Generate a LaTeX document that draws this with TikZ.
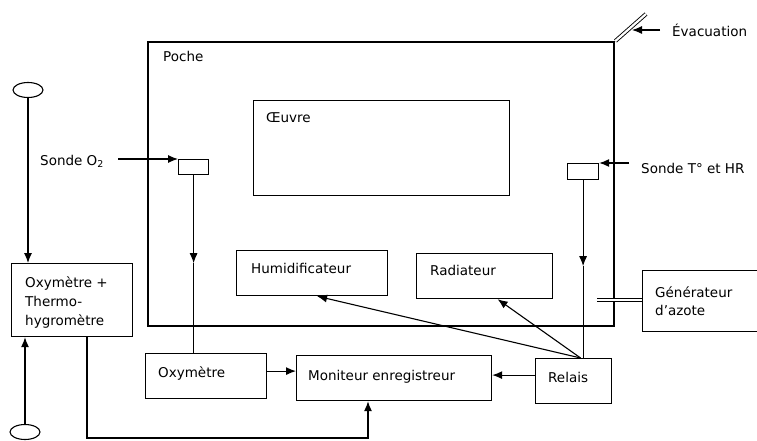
\documentclass[tikz,border=0pt]{standalone}
\usepackage{fontspec}
\setmainfont{DejaVu Sans}
\usetikzlibrary{arrows.meta,shapes.geometric}
\begin{document}
\begin{tikzpicture}[x=1pt,y=-1pt,
  box/.style={draw, line width=1.2pt, inner sep=0pt, anchor=north west},
  pochebox/.style={draw, line width=2.4pt, inner sep=0pt, anchor=north west},
  lbl/.style={inner sep=0pt, anchor=base west, font=\fontsize{13.5}{16}\selectfont},
  arr/.style={line width=1.1pt, -{Latex[length=10pt,width=8pt]}},
  conn/.style={line width=1.1pt},
  dbl/.style={double, double distance=2.2pt, line width=0.9pt},
  ell/.style={draw, ellipse, line width=1.1pt, minimum width=30pt, minimum height=15pt, inner sep=0pt}
]
\useasboundingbox (0,0) rectangle (757,441);

% Poche and its content
\node[pochebox, minimum width=466pt, minimum height=284pt] (poche) at (147,41) {};
\node[lbl] (pochet) at (163,62) {Poche};
\node[box, minimum width=256pt, minimum height=95pt] (oeuvre) at (253,100) {};
\node[lbl] (oeuvret) at (266,123) {Œuvre};
\node[box, minimum width=30pt, minimum height=15pt] (so2) at (178,159) {};
\node[box, minimum width=31pt, minimum height=16pt] (st) at (567,163) {};
\node[box, minimum width=151pt, minimum height=45pt] (hum) at (236,250) {};
\node[lbl] (humt) at (251,273) {Humidificateur};
\node[box, minimum width=136pt, minimum height=45pt] (rad) at (416,253) {};
\node[lbl] (radt) at (430,275) {Radiateur};

% outside boxes
\node[box, minimum width=130pt, minimum height=61pt] (gen) at (642,270) {};
\node[lbl] (gent1) at (655,297) {Générateur};
\node[lbl] (gent2) at (655,315) {d’azote};
\node[box, minimum width=121pt, minimum height=73pt] (oxth) at (11,263) {};
\node[lbl] (oxtht1) at (25,287) {Oxymètre +};
\node[lbl] (oxtht2) at (25,306) {Thermo-};
\node[lbl] (oxtht3) at (25,325) {hygromètre};
\node[box, minimum width=121pt, minimum height=45pt] (oxy) at (145,353) {};
\node[lbl] (oxyt) at (158,377) {Oxymètre};
\node[box, minimum width=195pt, minimum height=45pt] (moni) at (296,355) {};
\node[lbl] (monit) at (308,380) {Moniteur enregistreur};
\node[box, minimum width=76pt, minimum height=45pt] (relais) at (535,358) {};
\node[lbl] (relaist) at (548,382) {Relais};

% ellipses
\node[ell] (ella) at (28,90) {};
\node[ell] (ellb) at (25,432) {};

% free-standing labels
\node[lbl] (o2t) at (40,165) {Sonde O\textsubscript{2}};
\node[lbl] (tt) at (641,173) {Sonde T° et HR};
\node[lbl] (evt) at (672,37) {Évacuation};

% coordinates
\coordinate (o2in) at (118,159);
\coordinate (tin) at (629,163);
\coordinate (evtop) at (646,14);
\coordinate (evin) at (660,30);
\coordinate (evtip) at (632,30);
\coordinate (gin) at (597,300);
\coordinate (c1) at (87,438);
\coordinate (c2) at (368,438);
\coordinate (rtop) at ([xshift=7pt]relais.north);
\coordinate (o2mid) at ([yshift=-88pt]so2.south);
\coordinate (tmid) at ([yshift=-86pt]st.south);

% connectors
\draw[dbl] (poche.north east) -- (evtop);
\draw[arr] (evin) -- (evtip);
\draw[dbl] (gin) -- (gin -| gen.west);
\draw[arr] (o2in) -- (o2in -| so2.west);
\draw[arr] (tin) -- (tin -| st.east);
\draw[arr] (so2.south) -- (o2mid);
\draw[conn] (o2mid) -- (o2mid |- oxy.north);
\draw[arr] (st.south) -- (tmid);
\draw[conn] (tmid) -- (tmid |- relais.north);
\draw[arr] (ella.south) -- (ella.south |- oxth.north);
\draw[arr] (ellb.north) -- (ellb.north |- oxth.south);
\draw[arr] (oxth.south -| c1) -- (c1) -- (c2) -- (c2 |- moni.south);
\draw[arr] ([yshift=5pt]oxy.east) -- ([yshift=5pt]oxy.east -| moni.west);
\draw[arr] ([yshift=6pt]relais.west) -- ([yshift=6pt]relais.west -| moni.east);
\draw[arr] (rtop) -- ([xshift=5pt]hum.south);
\draw[arr] (rtop) -- ([xshift=13pt]rad.south);
\end{tikzpicture}
\end{document}
